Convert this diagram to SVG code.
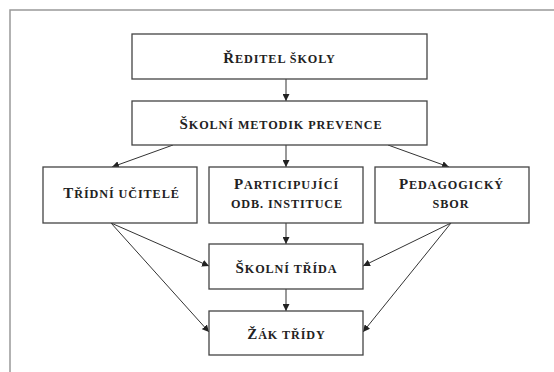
<svg xmlns="http://www.w3.org/2000/svg" width="554" height="372" viewBox="0 0 554 372">
<style>
.box{fill:#fff;stroke:#444;stroke-width:1.3}
.t{font-family:"Liberation Serif","Times New Roman",serif;font-weight:bold;font-size:12.2px;letter-spacing:0.9px;fill:#222;text-anchor:middle}
.b{font-size:15px}
.c{stroke:#333;stroke-width:1;fill:none;marker-end:url(#ah)}
</style>
<defs>
<marker id="ah" viewBox="0 0 10 10" refX="10" refY="5" markerWidth="7" markerHeight="7" markerUnits="userSpaceOnUse" orient="auto">
<path d="M0,0 L10,5 L0,10 z" fill="#222"/>
</marker>
</defs>
<rect x="0" y="0" width="554" height="372" fill="#fff"/>
<path d="M10,380 V10 H560" fill="none" stroke="#999" stroke-width="1.5"/>
<g id="connectors">
<line class="c" x1="286" y1="79" x2="286" y2="101"/>
<line class="c" x1="173" y1="145" x2="112" y2="167"/>
<line class="c" x1="286" y1="145" x2="286" y2="167"/>
<line class="c" x1="388" y1="145" x2="449" y2="167"/>
<line class="c" x1="111" y1="223" x2="209" y2="266"/>
<line class="c" x1="111" y1="223" x2="209" y2="332"/>
<line class="c" x1="286" y1="223" x2="286" y2="244"/>
<line class="c" x1="451" y1="223" x2="363" y2="266"/>
<line class="c" x1="451" y1="223" x2="363" y2="332"/>
<line class="c" x1="286" y1="289" x2="286" y2="311"/>
</g>
<g id="reditel"><rect class="box" x="132" y="34" width="295" height="45"/><text class="t" x="279.5" y="63"><tspan class="b">Ř</tspan>EDITEL ŠKOLY</text></g>
<g id="metodik"><rect class="box" x="132" y="101" width="295" height="44"/><text class="t" x="281" y="129"><tspan class="b">Š</tspan>KOLNÍ METODIK PREVENCE</text></g>
<g id="ucitele"><rect class="box" x="43" y="167" width="154" height="56"/><text class="t" x="121.5" y="198"><tspan class="b">T</tspan>ŘÍDNÍ UČITELÉ</text></g>
<g id="instituce"><rect class="box" x="209" y="167" width="154" height="56"/><text class="t" x="286.5" y="189"><tspan class="b">P</tspan>ARTICIPUJÍCÍ</text><text class="t" x="287" y="208">ODB. INSTITUCE</text></g>
<g id="sbor"><rect class="box" x="375" y="167" width="154" height="56"/><text class="t" x="451.5" y="189"><tspan class="b">P</tspan>EDAGOGICKÝ</text><text class="t" x="451" y="208">SBOR</text></g>
<g id="trida"><rect class="box" x="209" y="244" width="154" height="45"/><text class="t" x="286.5" y="273"><tspan class="b">Š</tspan>KOLNÍ TŘÍDA</text></g>
<g id="zak"><rect class="box" x="209" y="311" width="154" height="44"/><text class="t" x="286.5" y="339"><tspan class="b">Ž</tspan>ÁK TŘÍDY</text></g>
</svg>
